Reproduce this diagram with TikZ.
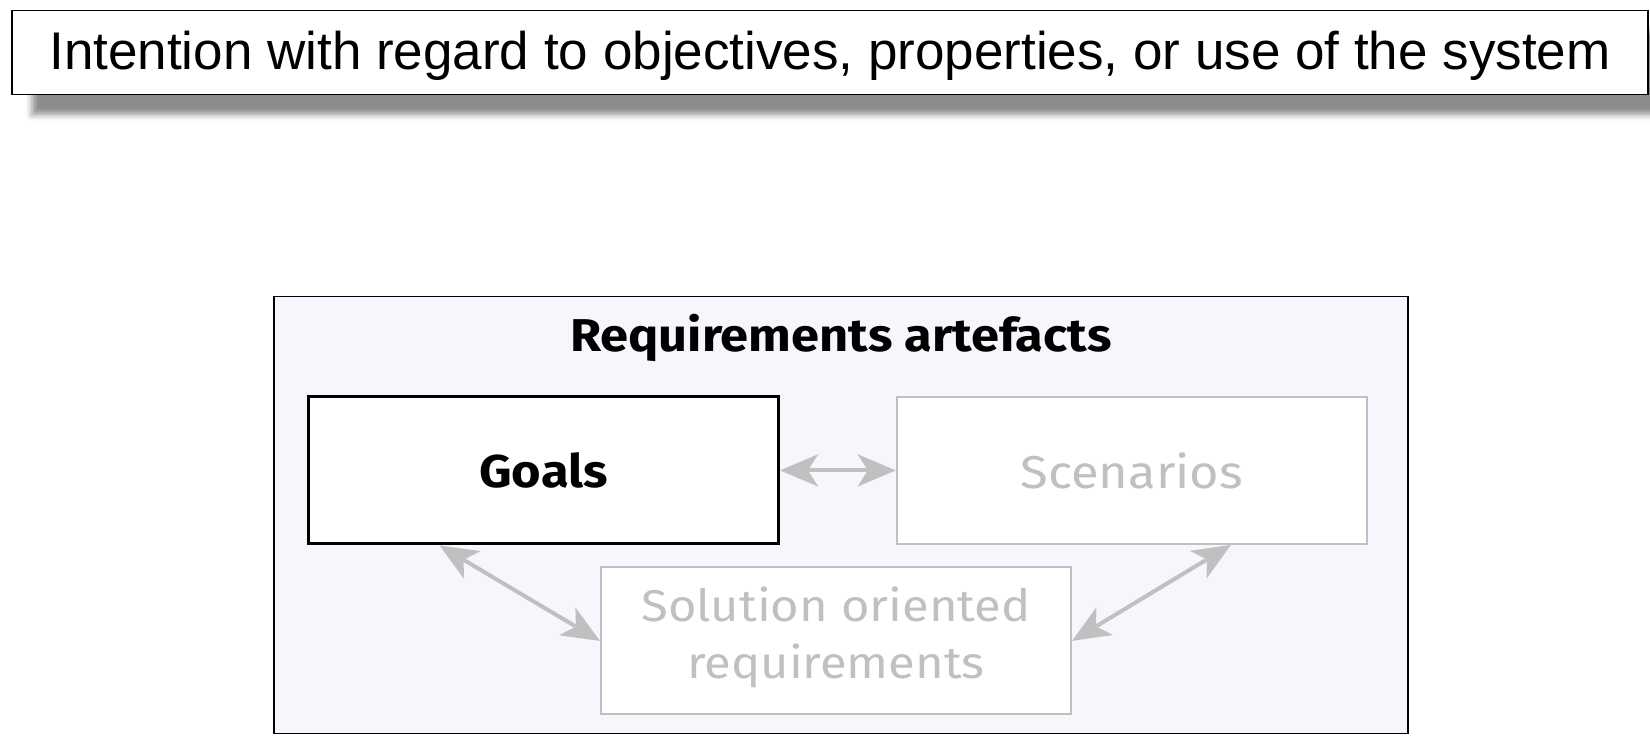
\documentclass[tikz,border=0pt]{standalone}
\usepackage{fontspec}
\setmainfont{Liberation Sans}
\newfontfamily\rfont[FakeStretch=1.1]{Fira Sans}
\usetikzlibrary{arrows.meta,shadows.blur,calc}
\definecolor{lgray}{RGB}{192,192,192}
\definecolor{panel}{RGB}{245,247,252}
\begin{document}
\begin{tikzpicture}[x=1pt,y=-1pt,
  headbox/.style={draw=black, line width=1.5pt, fill=white, minimum width=1636pt, minimum height=84pt,
     inner sep=0pt, text height=37pt, text depth=2.4pt, font=\fontsize{53}{60}\selectfont,
     blur shadow={shadow xshift=20pt, shadow yshift=-20pt, shadow blur radius=6pt, shadow opacity=45}},
  panelbox/.style={draw=black, line width=1.5pt, fill=panel, minimum width=1134pt, minimum height=437pt, inner sep=0pt},
  artbox/.style={fill=white, minimum width=470pt, minimum height=147pt, inner sep=0pt, align=center,
     font=\rfont\fontsize{46}{57}\selectfont},
  mainbox/.style={artbox, draw=black, line width=3pt, font=\rfont\bfseries\fontsize{46}{57}\selectfont},
  dimbox/.style={artbox, draw=lgray, line width=2pt, text=lgray},
  dimtext/.style={inner sep=0pt, align=center, text=lgray, font=\rfont\fontsize{44.5}{57}\selectfont},
  titletext/.style={font=\rfont\bfseries\fontsize{46}{52}\selectfont, inner sep=0pt},
  link/.style={draw=lgray, line width=4pt,
     {Stealth[length=38pt,width=32pt,inset=10pt]}-{Stealth[length=38pt,width=32pt,inset=10pt]}}
]
\useasboundingbox (0,0) rectangle (1650,738);
\node[headbox] (intent) at (830,52.7) {Intention with regard to objectives, properties, or use of the system};
\node[panelbox] (panel) at (840.8,515.1) {};
\node[titletext, anchor=base] (title) at (841,351.5) {Requirements artefacts};
\node[mainbox] (goals) at (543.5,470.4) {Goals};
\node[dimbox] (scen) at (1131.8,470.4) {Scenarios};
\node[dimbox] (sol) at (836,640.9) {};
\node[dimtext] (soltext) at ($(sol.center)+(0,-4)$) {Solution oriented\\requirements};
\coordinate (gb) at ($(goals.south west)!0.28!(goals.south east)$);
\coordinate (sb) at ($(scen.south west)!0.71!(scen.south east)$);
\draw[link] (goals.east) -- (scen.west);
\draw[link] (gb) -- (sol.west);
\draw[link] (sol.east) -- (sb);
\end{tikzpicture}
\end{document}
